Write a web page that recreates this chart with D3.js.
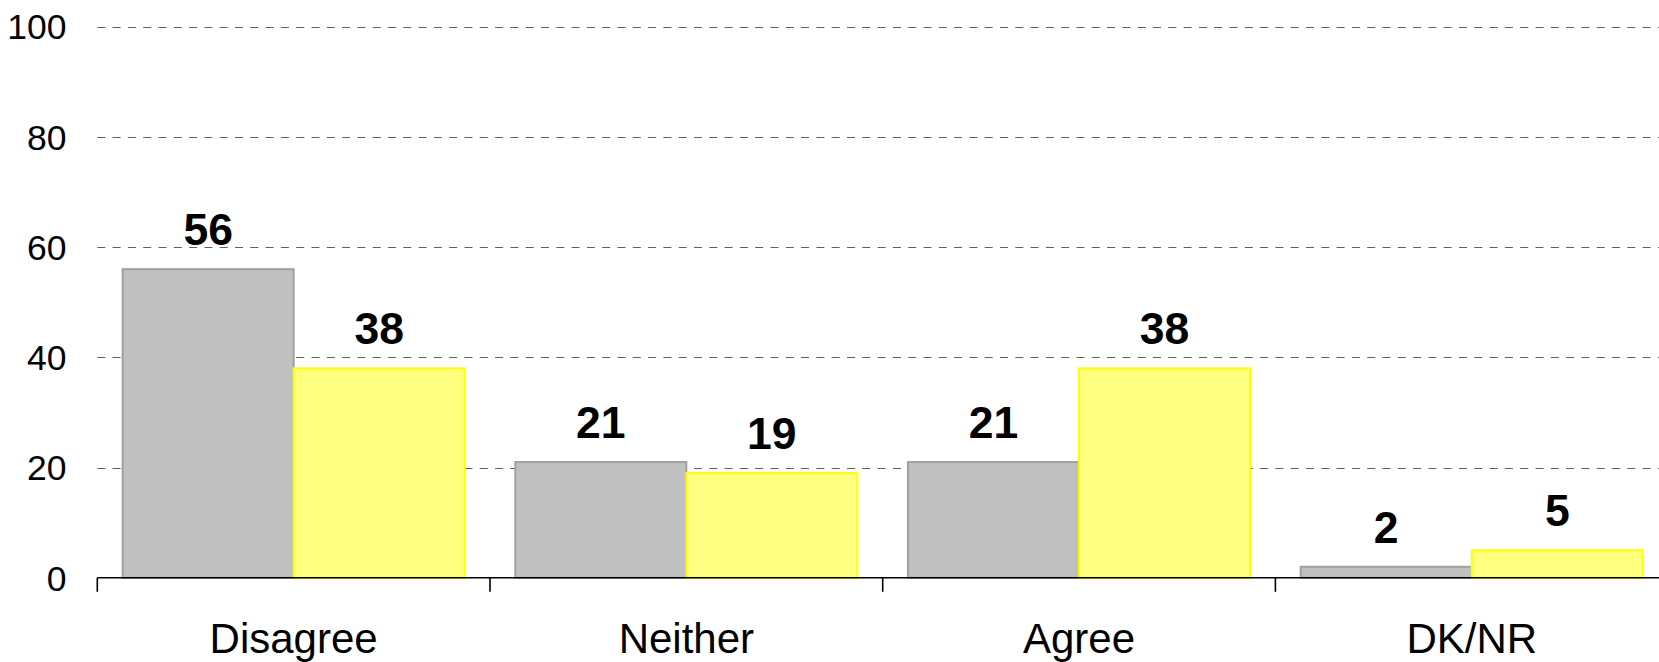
<!DOCTYPE html>
<html><head><meta charset="utf-8">
<script src="https://cdn.jsdelivr.net/npm/d3@7"></script>
<style>
html,body{margin:0;padding:0;background:#fff;overflow:hidden}
svg{display:block}
text{font-family:"Liberation Sans",Arial,sans-serif}
</style></head>
<body>
<svg id="chart" width="1659" height="662"></svg>
<script>
const categories = ["Disagree", "Neither", "Agree", "DK/NR"];
const seriesNames = ["Series A", "Series B"];
const seriesA = [56, 21, 21, 2];
const seriesB = [38, 19, 38, 5];
const yTicks = [0, 20, 40, 60, 80, 100];

const W = 1659, H = 662;
const m = {left: 97.3, top: 26.7};
const plotRight = 97.3 + 4 * 392.7;
const svg = d3.select("#chart");

const x0 = d3.scaleBand().domain(categories).range([m.left, plotRight]).paddingInner(0).paddingOuter(0);
const x1 = d3.scaleBand().domain(seriesNames).range([0, x0.bandwidth()]).paddingInner(0).paddingOuter(0.148);
const y = d3.scaleLinear().domain([0, 100]).range([577.8, m.top]);

const fills = ["#c0c0c0", "#ffff80"];
const strokes = ["#a0a0a0", "#ffff00"];

// grid
svg.append("g").selectAll("line").data(yTicks.filter(d => d > 0)).join("line")
  .attr("x1", m.left).attr("x2", W + 20)
  .attr("y1", d => Math.round(y(d)) + 0.5).attr("y2", d => Math.round(y(d)) + 0.5)
  .attr("stroke", "#606060").attr("stroke-width", 1.2).attr("stroke-dasharray", "8,7.3");

// y tick labels
svg.append("g").selectAll("text").data(yTicks).join("text")
  .attr("x", 66.5).attr("y", d => y(d)).attr("dy", "0.36em")
  .attr("text-anchor", "end").attr("font-size", 35.5).attr("fill", "#000")
  .text(d => d);

// bars
const data = categories.map((c, i) => ({c, vals: [seriesA[i], seriesB[i]]}));
const g = svg.append("g").selectAll("g").data(data).join("g")
  .attr("transform", d => `translate(${x0(d.c)},0)`);
g.selectAll("rect").data(d => d.vals.map((v, j) => ({v, j}))).join("rect")
  .attr("x", d => x1(seriesNames[d.j]))
  .attr("width", x1.bandwidth())
  .attr("y", d => y(d.v))
  .attr("height", d => y(0) - y(d.v))
  .attr("fill", d => fills[d.j]).attr("stroke", d => strokes[d.j]).attr("stroke-width", 2);
g.selectAll("text").data(d => d.vals.map((v, j) => ({v, j}))).join("text")
  .attr("x", d => x1(seriesNames[d.j]) + x1.bandwidth() / 2)
  .attr("y", d => y(d.v) - 24)
  .attr("text-anchor", "middle").attr("font-size", 44.5).attr("font-weight", "bold").attr("fill", "#000")
  .text(d => d.v);

// x axis
const xAxisG = svg.append("g");
xAxisG.append("line").attr("x1", m.left).attr("x2", W + 20)
  .attr("y1", y(0)).attr("y2", y(0)).attr("stroke", "#000").attr("stroke-width", 1.6);
const bounds = categories.map(c => x0(c)).concat([plotRight]);
xAxisG.selectAll("line.tick").data(bounds).join("line").attr("class", "tick")
  .attr("x1", d => d).attr("x2", d => d).attr("y1", y(0)).attr("y2", y(0) + 14)
  .attr("stroke", "#000").attr("stroke-width", 1.6);
xAxisG.selectAll("text").data(categories).join("text")
  .attr("x", d => x0(d) + x0.bandwidth() / 2).attr("y", 653)
  .attr("text-anchor", "middle").attr("font-size", 42).attr("fill", "#000")
  .text(d => d);
</script>
</body></html>
